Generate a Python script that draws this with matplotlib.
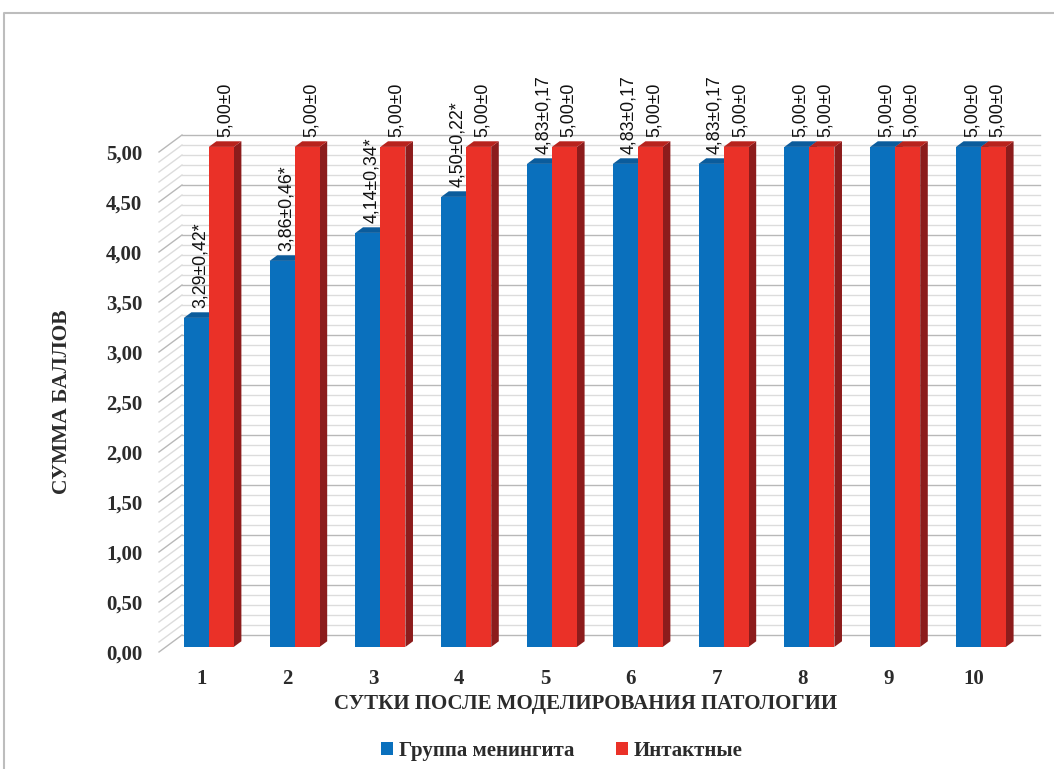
import numpy as np
import matplotlib
matplotlib.use("Agg")
import matplotlib.pyplot as plt
from matplotlib.patches import Polygon, Patch
from matplotlib.font_manager import FontProperties

# data
days = np.arange(1, 11)
meningitis = [3.29, 3.86, 4.14, 4.50, 4.83, 4.83, 4.83, 5.00, 5.00, 5.00]
intact = [5.00] * 10
men_labels = ["3,29±0,42*", "3,86±0,46*", "4,14±0,34*", "4,50±0,22*", "4,83±0,17",
              "4,83±0,17", "4,83±0,17", "5,00±0", "5,00±0", "5,00±0"]
int_labels = ["5,00±0"] * 10
series_names = ["Группа менингита", "Интактные"]
yticks = np.arange(0, 5.01, 0.5)

blue, blue_top, blue_side = "#0a70bd", "#0b5c9c", "#084f87"
red, red_top, red_side = "#ea3128", "#b8231d", "#8c1c1c"

serif = "Liberation Serif"
txt = "#2b2b2b"

fig = plt.figure(figsize=(10.54, 7.69), dpi=100)
ax = fig.add_axes([159 / 1054, 117 / 769, 858 / 1054, 500 / 769])
ax.set_xlim(0.5, 10.5)
ax.set_ylim(0, 5)
for s in ax.spines.values():
    s.set_visible(False)

# oblique depth vector in data units (front of walls -> back wall)
DX = 23 / 85.8
DY = 0.17
bar_front, bar_back = 0.3, 0.63
w = 25 / 85.8

# back wall + left wall gridlines
for y in np.arange(0, 5.001, 0.1):
    major = abs(y * 2 - round(y * 2)) < 1e-6
    col = "#b8b8b8" if major else "#dcdcdc"
    ax.plot([0.5 + DX, 10.5 + DX], [y + DY, y + DY], color=col, lw=1.0, zorder=1, clip_on=False)
    ax.plot([0.5, 0.5 + DX], [y, y + DY], color=col, lw=1.0, zorder=1, clip_on=False)


def draw_bar(xl, h, cf, ct, cs, z):
    ox, oy = bar_front * DX, bar_front * DY
    dx, dy = (bar_back - bar_front) * DX, (bar_back - bar_front) * DY
    x0, x1 = xl + ox, xl + w + ox
    side = Polygon([(x1, oy), (x1, h + oy), (x1 + dx, h + oy + dy), (x1 + dx, oy + dy)],
                   closed=True, facecolor=cs, edgecolor="none", zorder=z, clip_on=False)
    ax.add_patch(side)
    ax.bar(x0, h, width=w, bottom=oy, align="edge", color=cf, zorder=z + 0.1, clip_on=False)
    top = Polygon([(x0, h + oy), (x1, h + oy), (x1 + dx, h + oy + dy), (x0 + dx, h + oy + dy)],
                  closed=True, facecolor=ct, edgecolor="none", zorder=z + 0.2, clip_on=False)
    ax.add_patch(top)
    return (x0 + x1) / 2 + dx / 2, h + oy + dy


for i, d in enumerate(days):
    bx, by = draw_bar(d - w, meningitis[i], blue, blue_top, blue_side, 2 + i)
    rx, ry = draw_bar(d, intact[i], red, red_top, red_side, 2.5 + i)
    ax.text(bx, by + 0.04, men_labels[i], rotation=90, ha="center", va="bottom",
            fontsize=12.8, family="Liberation Sans", color="#111111", zorder=30)
    ax.text(rx, ry + 0.04, int_labels[i], rotation=90, ha="center", va="bottom",
            fontsize=12.8, family="Liberation Sans", color="#111111", zorder=30)

ax.set_yticks(yticks)
ax.set_yticklabels([f"{v:.2f}".replace(".", ",") for v in yticks],
                   family=serif, fontweight="bold", fontsize=15, color=txt)
ax.set_xticks(days)
ax.set_xticklabels([str(d) for d in days], family=serif, fontweight="bold", fontsize=15, color=txt)
ax.tick_params(axis="both", length=0)
ax.tick_params(axis="y", pad=12)
ax.tick_params(axis="x", pad=12)

fig.text(586 / 1054, 1 - 704 / 769, "СУТКИ ПОСЛЕ МОДЕЛИРОВАНИЯ ПАТОЛОГИИ", ha="center", va="center",
         family=serif, fontweight="bold", fontsize=15, color=txt)
fig.text(62 / 1054, 1 - 402 / 769, "СУММА БАЛЛОВ", ha="center", va="center", rotation=90,
         family=serif, fontweight="bold", fontsize=15.5, color=txt)

handles = [Patch(facecolor=blue, label=series_names[0]), Patch(facecolor=red, label=series_names[1])]
leg_font = FontProperties(family=serif, weight="bold", size=15)
leg = fig.legend(handles=handles, loc="center", bbox_to_anchor=(562 / 1054, 1 - 751 / 769), ncol=2,
                 frameon=False, handlelength=0.55, handleheight=0.55, handletextpad=0.3,
                 columnspacing=2.0, prop=leg_font)
for t in leg.get_texts():
    t.set_color(txt)

# chart area frame
fig.add_artist(plt.Line2D([4 / 1054, 4 / 1054, 1.0], [0, 1 - 13 / 769, 1 - 13 / 769],
                          transform=fig.transFigure, color="#bdbdbd", lw=1.5))

fig.savefig("out.png", dpi=100)
